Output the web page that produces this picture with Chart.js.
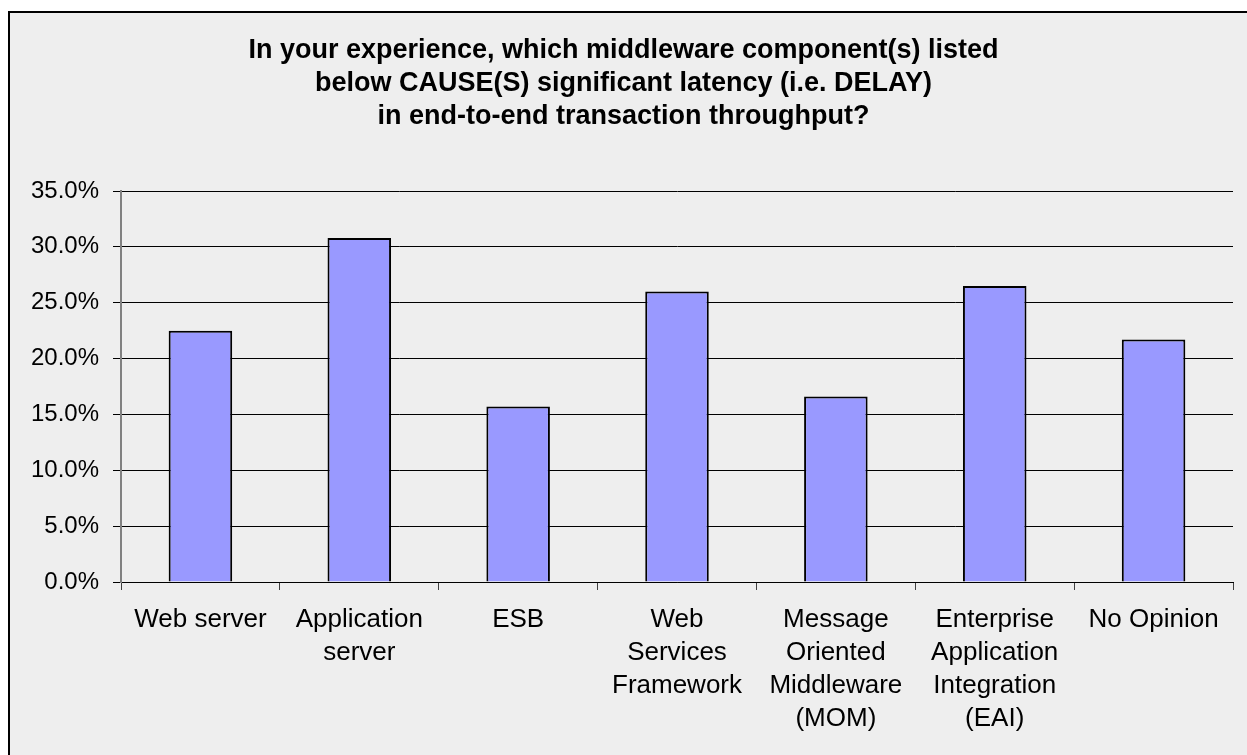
<!DOCTYPE html>
<html>
<head>
<meta charset="utf-8">
<title>Middleware latency survey</title>
<script src="https://cdn.jsdelivr.net/npm/chart.js"></script>
<style>
  html, body {
    margin: 0;
    padding: 0;
    background: #ffffff;
    overflow: hidden;
  }
  .chart-frame {
    position: absolute;
    left: 8px;
    top: 11px;
    right: 0;
    bottom: 0;
    background: #eeeeee;
    border-left: 2px solid #000;
    border-top: 2px solid #000;
  }
  #latencyChart {
    position: absolute;
    left: 0;
    top: 0;
  }
</style>
</head>
<body>
<div class="chart-frame"></div>
<canvas id="latencyChart" width="1247" height="755"></canvas>

<script>
const titleLines = [
  'In your experience, which middleware component(s) listed',
  'below CAUSE(S) significant latency (i.e. DELAY)',
  'in end-to-end transaction throughput?'
];

const components = [
  'Web server',
  ['Application', 'server'],
  'ESB',
  ['Web', 'Services', 'Framework'],
  ['Message', 'Oriented', 'Middleware', '(MOM)'],
  ['Enterprise', 'Application', 'Integration', '(EAI)'],
  'No Opinion'
];

// share of respondents, in percent
const latencyShare = [22.5, 30.8, 15.7, 26.0, 16.6, 26.5, 21.7];

const yMin = 0;
const yMax = 35;
const yStep = 5;

const fontFamily = '"Liberation Sans", Arial, Helvetica, sans-serif';

document.addEventListener('DOMContentLoaded', function() {
  createLatencyChart();
});

function createLatencyChart() {
  const ctx = document.getElementById('latencyChart');
  if (!ctx) return;

  new Chart(ctx, {
    type: 'bar',
    data: {
      labels: components,
      datasets: [{
        data: latencyShare,
        backgroundColor: '#9999ff',
        borderColor: '#000000',
        borderWidth: 2,
        barPercentage: 0.4,
        categoryPercentage: 1.0
      }]
    },
    options: {
      responsive: false,
      devicePixelRatio: 1,
      animation: false,
      layout: {
        padding: { left: 14, right: 14, top: 0, bottom: 0 }
      },
      plugins: {
        legend: { display: false },
        tooltip: { enabled: false },
        title: {
          display: true,
          text: titleLines,
          color: '#000000',
          font: { family: fontFamily, size: 27, weight: 'bold', lineHeight: '33px' },
          padding: { top: 34, bottom: 58 }
        }
      },
      scales: {
        x: {
          grid: {
            offset: true,
            drawOnChartArea: false,
            drawTicks: true,
            tickLength: 8,
            color: '#404040',
            lineWidth: 1
          },
          border: { color: '#000000', width: 1 },
          ticks: {
            color: '#000000',
            padding: 13,
            maxRotation: 0,
            autoSkip: false,
            font: { family: fontFamily, size: 26, lineHeight: '33px' }
          },
          afterFit: function(scale) {
            scale.height = 173;
          }
        },
        y: {
          min: yMin,
          max: yMax,
          grid: {
            color: '#000000',
            lineWidth: 1,
            drawTicks: true,
            tickLength: 8
          },
          border: { color: '#808080', width: 2 },
          ticks: {
            stepSize: yStep,
            color: '#000000',
            padding: 14,
            font: { family: fontFamily, size: 24 },
            callback: function(value) {
              return value.toFixed(1) + '%';
            }
          },
          afterFit: function(scale) {
            scale.width = 107;
          }
        }
      }
    }
  });
}
</script>
</body>
</html>
